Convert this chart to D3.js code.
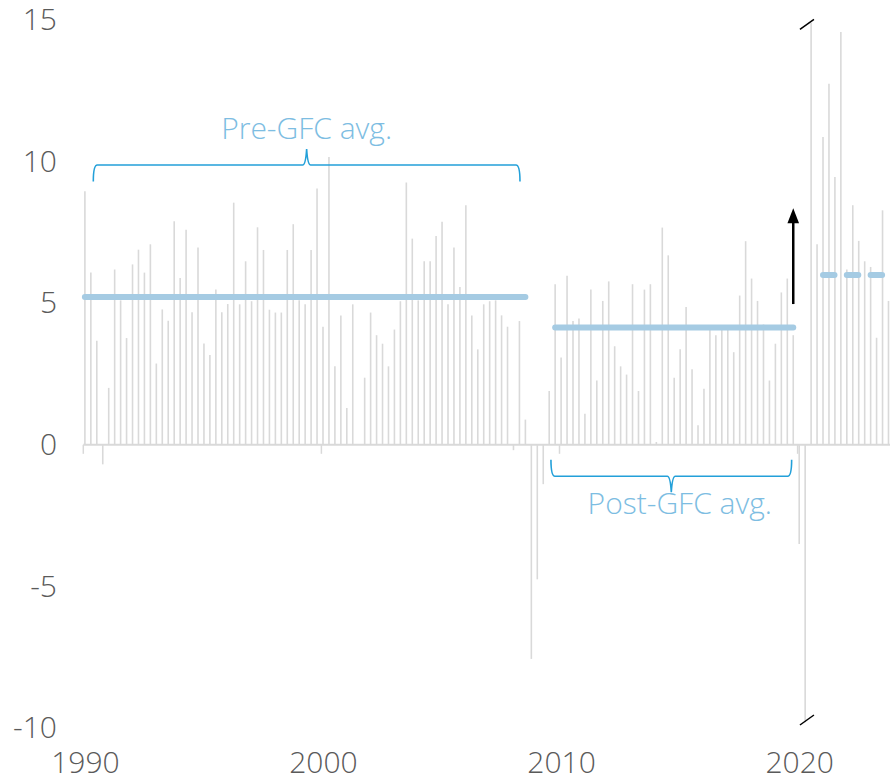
<!DOCTYPE html>
<html>
<head>
<meta charset="utf-8">
<script src="https://cdn.jsdelivr.net/npm/d3@7/dist/d3.min.js"></script>
<style>
  body { margin: 0; background: #fff; }
  svg { display: block; font-family: "Open Sans", sans-serif; }
</style>
</head>
<body>
<svg id="chart" width="890" height="783"></svg>
<script>
// quarterly values, 1990 Q1 .. 2023 Q4 (2020 Q2 / Q3 run off the chart)
var startYear = 1990;
var growth = [
  8.95, 6.08, 3.67, -0.69, 2.01, 6.19, 5.10, 3.77, 6.37, 6.89,
  6.08, 7.08, 2.87, 4.78, 4.38, 7.89, 5.89, 7.59, 4.68, 6.97,
  3.58, 3.17, 5.48, 4.68, 4.97, 8.55, 4.96, 6.48, 5.07, 7.68,
  6.88, 4.77, 4.67, 4.67, 6.88, 7.79, 5.10, 4.96, 6.88, 9.05,
  4.17, 10.16, 2.77, 4.57, 1.30, 4.96, 0.00, 2.37, 4.67, 3.87,
  3.57, 2.77, 4.07, 5.07, 9.26, 7.28, 5.10, 6.48, 6.48, 7.37,
  7.88, 4.96, 6.97, 5.57, 8.46, 4.57, 3.37, 4.96, 5.07, 5.10,
  4.57, 4.17, -0.19, 4.37, 0.89, -7.56, -4.75, -1.39, 1.90, 5.67,
  3.08, 5.97, 4.37, 4.46, 1.10, 5.48, 2.27, 5.08, 5.77, 3.48,
  2.77, 2.48, 5.67, 1.90, 5.48, 5.67, 0.10, 7.67, 6.69, 2.37,
  3.37, 4.87, 2.67, 0.69, 1.98, 4.10, 3.87, 4.10, 4.10, 3.27,
  5.27, 7.19, 5.87, 5.08, 4.25, 2.27, 3.57, 5.38, 5.87, 3.87,
  -3.50, -28.0, 34.0, 7.08, 10.87, 12.75, 9.46, 14.58, 6.19, 8.46,
  7.20, 6.48, 6.28, 3.78, 8.28, 5.08
];

// period averages
var averages = [
  { name: 'Pre-GFC avg.', from: 1990.0, to: 2008.5, value: 5.22, dashed: false },
  { name: 'Post-GFC avg.', from: 2009.75, to: 2019.75, value: 4.14, dashed: false },
  { name: 'Post-COVID avg.', from: 2021.0, to: 2023.5, value: 6.0, dashed: true }
];

var yTicks = [15, 10, 5, 0, -5, -10];
var xTicks = [1990, 2000, 2010, 2020];
var arrowFrom = 4.97, arrowTo = 8.35, arrowAt = 2019.75;
var breakAt = 2020.25;

var svg = d3.select('#chart');
var grey = '#d9d9d9';
var avgBlue = '#a5cbe3';
var braceBlue = '#23a0d9';
var labelBlue = '#7dbde2';
var textGrey = '#5a5a5a';

var x = d3.scaleLinear().domain([1990, 2020]).range([83.3, 797.6]);
var y = d3.scaleLinear().domain([-10, 15]).range([728, 20]);
var barOff = 1.6;
var shownMin = -9.8, shownMax = 14.9;

var data = growth.map(function (v, i) { return { t: startYear + i / 4, v: v }; });

// zero line
svg.append('line')
  .attr('x1', x(1990)).attr('x2', 890)
  .attr('y1', y(0)).attr('y2', y(0))
  .attr('stroke', grey).attr('stroke-width', 2);

// decade ticks on zero line
svg.selectAll('.tick-mark').data(xTicks).join('line')
  .attr('class', 'tick-mark')
  .attr('x1', function (d) { return x(d); }).attr('x2', function (d) { return x(d); })
  .attr('y1', y(0)).attr('y2', y(0) + 9)
  .attr('stroke', grey).attr('stroke-width', 1.5);

// bars
svg.selectAll('.bar').data(data).join('line')
  .attr('class', 'bar')
  .attr('x1', function (d) { return x(d.t) + barOff; })
  .attr('x2', function (d) { return x(d.t) + barOff; })
  .attr('y1', y(0))
  .attr('y2', function (d) { return y(Math.max(shownMin, Math.min(shownMax, d.v))); })
  .attr('stroke', grey).attr('stroke-width', 1.6);

// average lines
svg.selectAll('.avg').data(averages).join('line')
  .attr('class', 'avg')
  .attr('x1', function (d) { return x(d.from) + barOff; })
  .attr('x2', function (d) { return x(d.to) + barOff; })
  .attr('y1', function (d) { return y(d.value); })
  .attr('y2', function (d) { return y(d.value); })
  .attr('stroke', avgBlue).attr('stroke-width', 6)
  .attr('stroke-linecap', 'round')
  .attr('stroke-dasharray', function (d) { return d.dashed ? '11.5,12.3' : null; });

// curly brackets
function brace(x0, x1, yb, dir) {
  // dir = -1: tip points up, ends bend down; dir = 1: tip points down, ends bend up
  var xc = (x0 + x1) / 2, r = 4, end = -dir * 16.5, tip = dir * 16;
  return 'M' + x0 + ',' + (yb + end) +
    ' Q' + x0 + ',' + yb + ' ' + (x0 + r) + ',' + yb +
    ' L' + (xc - 4) + ',' + yb +
    ' Q' + (xc - 1) + ',' + yb + ' ' + xc + ',' + (yb + tip) +
    ' Q' + (xc + 1) + ',' + yb + ' ' + (xc + 4) + ',' + yb +
    ' L' + (x1 - r) + ',' + yb +
    ' Q' + x1 + ',' + yb + ' ' + x1 + ',' + (yb + end);
}

var pre = averages[0], post = averages[1];
var preX0 = x(pre.from) + 10, preX1 = x(pre.to) - 3.8;
var postX0 = x(post.from) - 2.6, postX1 = x(post.to);
svg.append('path')
  .attr('d', brace(preX0, preX1, y(9.88), -1))
  .attr('fill', 'none').attr('stroke', braceBlue).attr('stroke-width', 1.6);
svg.append('path')
  .attr('d', brace(postX0, postX1, y(-1.11), 1))
  .attr('fill', 'none').attr('stroke', braceBlue).attr('stroke-width', 1.6);

svg.append('text')
  .attr('x', (preX0 + preX1) / 2).attr('y', 138.5)
  .attr('text-anchor', 'middle')
  .attr('font-size', 30).attr('font-weight', 300)
  .attr('fill', labelBlue)
  .text(pre.name);
svg.append('text')
  .attr('x', (postX0 + postX1) / 2 + 8.5).attr('y', 513.5)
  .attr('text-anchor', 'middle')
  .attr('font-size', 30).attr('font-weight', 300)
  .attr('fill', labelBlue)
  .text(post.name);

// arrow
var ax = x(arrowAt) + barOff;
svg.append('line')
  .attr('x1', ax).attr('x2', ax)
  .attr('y1', y(arrowFrom)).attr('y2', y(arrowTo) + 12)
  .attr('stroke', '#000').attr('stroke-width', 2.5);
svg.append('path')
  .attr('d', 'M' + (ax - 5.8) + ',' + (y(arrowTo) + 15) + ' L' + ax + ',' + y(arrowTo) +
    ' L' + (ax + 5.8) + ',' + (y(arrowTo) + 15) + ' Z')
  .attr('fill', '#000');

// break marks for truncated bars
var bx = x(breakAt) + barOff + 1.8;
[y(15) + 4.3, y(-10) - 8].forEach(function (cy) {
  svg.append('line')
    .attr('x1', bx - 7).attr('x2', bx + 7)
    .attr('y1', cy + 5).attr('y2', cy - 5)
    .attr('stroke', '#000').attr('stroke-width', 1.5);
});

// y labels (plain hyphen minus, as in the original)
var yAxis = svg.append('g')
  .attr('transform', 'translate(57,0)')
  .call(d3.axisLeft(y).tickValues(yTicks).tickFormat(function (d) { return String(d); })
    .tickSize(0).tickPadding(0));
yAxis.select('.domain').remove();
yAxis.selectAll('text')
  .attr('font-size', 30).attr('font-weight', 300)
  .attr('font-family', '"Open Sans", sans-serif')
  .attr('fill', textGrey);

// x labels
var xAxis = svg.append('g')
  .attr('transform', 'translate(' + barOff + ',752)')
  .call(d3.axisBottom(x).tickValues(xTicks).tickFormat(d3.format('d')).tickSize(0).tickPadding(0));
xAxis.select('.domain').remove();
xAxis.selectAll('text')
  .attr('font-size', 30).attr('font-weight', 300)
  .attr('font-family', '"Open Sans", sans-serif')
  .attr('fill', textGrey);
</script>
</body>
</html>
